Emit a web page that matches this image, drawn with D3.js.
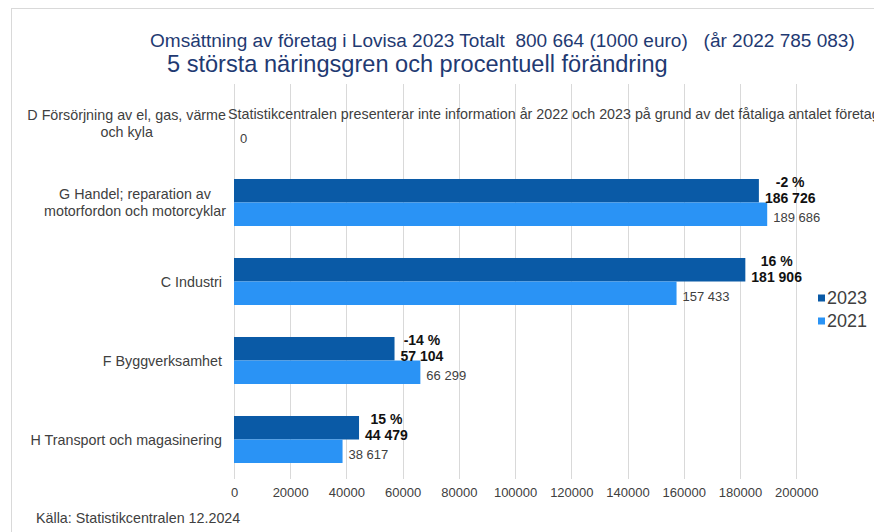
<!DOCTYPE html>
<html>
<head>
<meta charset="utf-8">
<script src="https://cdn.jsdelivr.net/npm/d3@7"></script>
<style>
  html, body { margin: 0; padding: 0; background: #fff; }
  svg { display: block; font-family: "Liberation Sans", Arial, sans-serif; }
</style>
</head>
<body>
<svg id="chart" width="874" height="532"></svg>
<script>
// ---- data ----
const categories = [
  "D Försörjning av el, gas, värme och kyla",
  "G Handel; reparation av motorfordon och motorcyklar",
  "C Industri",
  "F Byggverksamhet",
  "H Transport och magasinering"
];
const categoryLines = [
  ["D Försörjning av el, gas, värme", "och kyla"],
  ["G Handel; reparation av", "motorfordon och motorcyklar"],
  ["C Industri"],
  ["F Byggverksamhet"],
  ["H Transport och magasinering"]
];
const seriesNames = ["2023", "2021"];
const values2023 = [null, 186726, 181906, 57104, 44479];
const values2021 = [0, 189686, 157433, 66299, 38617];
const changePct = [null, -2, 16, -14, 15];
const xTicks = [0, 20000, 40000, 60000, 80000, 100000, 120000, 140000, 160000, 180000, 200000];
const noteText = "Statistikcentralen presenterar inte information år 2022 och 2023 på grund av det fåtaliga antalet företag";
const title1 = "Omsättning av företag i Lovisa 2023 Totalt  800 664 (1000 euro)   (år 2022 785 083)";
const title2 = "5 största näringsgren och procentuell förändring";
const sourceText = "Källa: Statistikcentralen 12.2024";

// ---- styles ----
const colors = { "2023": "#0a5aa6", "2021": "#2a93f5" };
const gridColor = "#d9d9d9";
const textColor = "#404040";
const titleColor = "#1f3a72";

const svg = d3.select("#chart");
const fmt = v => d3.format(",")(v).replace(/,/g, " ");

// frame
svg.append("line").attr("x1", 11).attr("x2", 874).attr("y1", 8.5).attr("y2", 8.5).attr("stroke", gridColor);
svg.append("line").attr("x1", 11.5).attr("x2", 11.5).attr("y1", 8).attr("y2", 532).attr("stroke", gridColor);

// scales
const x = d3.scaleLinear().domain([0, 200000]).range([234, 796.2]);
const y = d3.scaleBand().domain(categories).range([84, 479]).paddingInner(0.405).paddingOuter(0.2025);
const ySub = d3.scaleBand().domain(seriesNames).range([0, y.bandwidth()]);

// grid
svg.append("g").selectAll("line").data(xTicks).join("line")
  .attr("x1", d => Math.round(x(d)) + 0.5).attr("x2", d => Math.round(x(d)) + 0.5)
  .attr("y1", 84).attr("y2", 479).attr("stroke", gridColor);

// x axis labels via d3 axis
const axisG = svg.append("g").attr("transform", "translate(0,479)")
  .call(d3.axisBottom(x).tickValues(xTicks).tickFormat(d3.format("d")).tickSize(0).tickPadding(9));
axisG.select(".domain").remove();
axisG.selectAll("text").attr("font-size", 13).attr("fill", textColor)
  .attr("font-family", "Liberation Sans, Arial, sans-serif");

// titles (fit to measured widths)
function fitText(sel, targetW) {
  const w = sel.node().getComputedTextLength();
  const fs = parseFloat(sel.attr("font-size"));
  sel.attr("font-size", fs * targetW / w);
}
const t1 = svg.append("text").attr("x", 150).attr("y", 47).attr("font-size", 16)
  .attr("fill", titleColor).style("white-space", "pre").text(title1);
fitText(t1, 705);
const t2 = svg.append("text").attr("x", 167).attr("y", 72).attr("font-size", 20)
  .attr("fill", titleColor).text(title2);
fitText(t2, 501);

// category labels
const catG = svg.append("g");
categories.forEach((c, i) => {
  const lines = categoryLines[i];
  const cy = y(c) + y.bandwidth() / 2;
  if (lines.length === 1) {
    catG.append("text").attr("x", 222).attr("y", cy).attr("dy", "0.35em")
      .attr("text-anchor", "end").attr("font-size", 14.3).attr("fill", textColor).text(lines[0]);
  } else {
    const tmp = lines.map(l => catG.append("text").attr("font-size", 14.3).attr("fill", textColor)
      .attr("text-anchor", "middle").text(l));
    const maxW = d3.max(tmp, t => t.node().getComputedTextLength());
    const cx = 226 - maxW / 2;
    tmp.forEach((t, k) => t.attr("x", cx).attr("y", cy + (k - (lines.length - 1) / 2) * 17).attr("dy", "0.35em"));
  }
});

// bars
const rows = categories.map((c, i) => ({ c, i, v2023: values2023[i], v2021: values2021[i], pct: changePct[i] }));
const barG = svg.append("g");
seriesNames.forEach(s => {
  barG.selectAll(null).data(rows.filter(r => (s === "2023" ? r.v2023 : r.v2021) != null)).join("rect")
    .attr("x", x(0))
    .attr("y", r => y(r.c) + ySub(s))
    .attr("width", r => x(s === "2023" ? r.v2023 : r.v2021) - x(0))
    .attr("height", ySub.bandwidth())
    .attr("fill", colors[s]);
});

// labels 2021
const labG = svg.append("g");
rows.forEach(r => {
  const cy = y(r.c) + ySub("2021") + ySub.bandwidth() / 2 + 3;
  labG.append("text").attr("x", x(r.v2021) + 6).attr("y", cy).attr("dy", "0.35em")
    .attr("font-size", 13).attr("fill", textColor).text(fmt(r.v2021));
});

// labels 2023
rows.forEach(r => {
  const cy = y(r.c) + ySub("2023") + ySub.bandwidth() / 2;
  if (r.v2023 == null) {
    labG.append("text").attr("x", 228).attr("y", cy + 2).attr("dy", "0.35em")
      .attr("font-size", 14.3).attr("fill", textColor).text(noteText);
    return;
  }
  const num = labG.append("text").attr("font-size", 14).attr("font-weight", "bold").attr("fill", "#111")
    .attr("text-anchor", "middle").text(fmt(r.v2023));
  const w = num.node().getComputedTextLength();
  const cx = x(r.v2023) + 6 + w / 2;
  num.attr("x", cx).attr("y", cy + 7).attr("dy", "0.35em");
  labG.append("text").attr("font-size", 14).attr("font-weight", "bold").attr("fill", "#111")
    .attr("text-anchor", "middle").attr("x", cx).attr("y", cy - 9).attr("dy", "0.35em")
    .text(`${r.pct} %`);
});

// legend
const leg = svg.append("g");
seriesNames.forEach((s, k) => {
  const ly = 298 + k * 23;
  leg.append("rect").attr("x", 818).attr("y", ly - 3.5).attr("width", 7).attr("height", 7).attr("fill", colors[s]);
  leg.append("text").attr("x", 827).attr("y", ly).attr("dy", "0.35em")
    .attr("font-size", 18).attr("fill", textColor).text(s);
});

// source
svg.append("text").attr("x", 36).attr("y", 523).attr("font-size", 14.3).attr("fill", textColor).text(sourceText);
</script>
</body>
</html>
